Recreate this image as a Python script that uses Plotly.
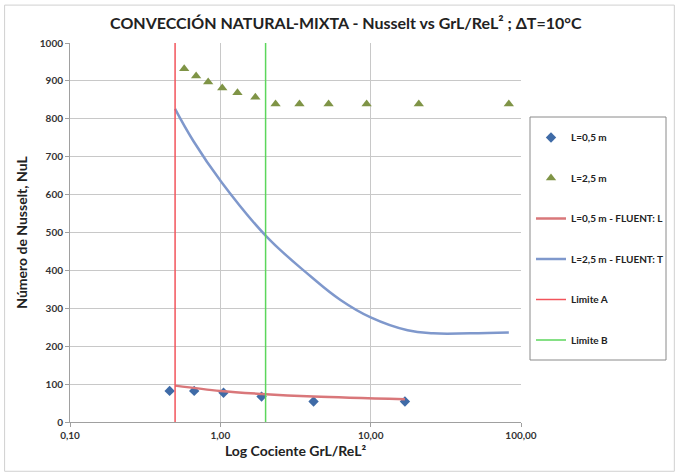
import plotly.graph_objects as go

# Data
x_l05 = [0.46, 0.67, 1.05, 1.88, 4.17, 16.9]
y_l05 = [82, 82, 77, 67, 54, 54]

x_l25 = [0.575, 0.69, 0.83, 1.03, 1.30, 1.71, 2.33, 3.36, 5.25, 9.4, 20.9, 83.0]
y_l25 = [932, 913, 897, 881, 869, 857, 839, 839, 839, 839, 839, 839]

x_fl = [0.5, 1.0, 1.88, 4.17, 16.9]
y_fl = [96, 82, 74, 67, 60]

x_ft = [0.5, 0.66, 1.0, 2.0, 4.0, 6.3, 10.0, 17.6, 26.0, 46.0, 83.0]
y_ft = [826, 742, 637, 492, 384, 322, 276, 242, 234, 234, 236]

lim_a_x = [0.5, 0.5]
lim_b_x = [2.0, 2.0]
lim_y = [0, 1000]

tick_vals = [0.1, 1, 10, 100]
tick_text = ["0,10", "1,00", "10,00", "100,00"]

FONT = "Lato"
fig = go.Figure()
fig.add_trace(go.Scatter(x=x_l05, y=y_l05, mode="markers", name="L=0,5 m",
                         marker=dict(symbol="diamond", size=8, color="#3F6BA7"),
                         legendgroup="a"))
fig.add_trace(go.Scatter(x=x_l25, y=y_l25, mode="markers", name="L=2,5 m",
                         marker=dict(symbol="triangle-up", size=9, color="#7F9446"),
                         legendgroup="b"))
fig.add_trace(go.Scatter(x=x_fl, y=y_fl, mode="lines", name="L=0,5 m - FLUENT: L",
                         line=dict(color="#D9777A", width=2.5, shape="spline"),
                         legendgroup="c"))
fig.add_trace(go.Scatter(x=x_ft, y=y_ft, mode="lines", name="L=2,5 m - FLUENT: T",
                         line=dict(color="#7F98CC", width=2.5, shape="spline", smoothing=1.2),
                         legendgroup="d"))
fig.add_trace(go.Scatter(x=lim_a_x, y=lim_y, mode="lines", name="Limite A",
                         line=dict(color="#F2545B", width=1.5), legendgroup="e"))
fig.add_trace(go.Scatter(x=lim_b_x, y=lim_y, mode="lines", name="Limite B",
                         line=dict(color="#5CD65C", width=1.5), legendgroup="f"))

# plot area in pixels: x 70..521, y 43..422
def px(p):
    return (p - 70) / 451.0

def py(p):
    return (422 - p) / 379.0

fig.update_layout(
    width=678, height=474,
    margin=dict(l=70, r=157, t=43, b=52, autoexpand=False),
    paper_bgcolor="white", plot_bgcolor="white",
    font=dict(family=FONT, color="#333333"),
    title=dict(text="CONVECCIÓN NATURAL-MIXTA - Nusselt vs GrL/ReL² ; ΔT=10°C",
               x=0.51, xanchor="center", y=0.951, yanchor="middle",
               font=dict(size=16, family=FONT, weight="bold", color="#222222")),
    xaxis=dict(type="log", range=[-1, 2], tickvals=tick_vals, ticktext=tick_text,
               showgrid=True, gridcolor="#C8C8C8", gridwidth=1,
               showline=True, linecolor="#A0A0A0", ticks="outside", ticklen=4,
               tickcolor="#A0A0A0", zeroline=False,
               tickfont=dict(size=10, family=FONT, weight="bold", color="#333333"),
               title=dict(text="Log Cociente GrL/ReL²", standoff=6,
                          font=dict(size=14, family=FONT, weight="bold", color="#222222"))),
    yaxis=dict(range=[0, 1000], dtick=100, showgrid=True, gridcolor="#C8C8C8", gridwidth=1,
               showline=True, linecolor="#A0A0A0", ticks="outside", ticklen=4,
               tickcolor="#A0A0A0", zeroline=False,
               tickfont=dict(size=10, family=FONT, weight="bold", color="#333333"),
               title=dict(text="Número de Nusselt, NuL", standoff=8,
                          font=dict(size=14, family=FONT, weight="bold", color="#222222"))),
    legend=dict(x=px(531), y=py(123), xanchor="left", yanchor="top",
                borderwidth=0, bgcolor="rgba(0,0,0,0)",
                font=dict(size=10, family=FONT, weight="bold", color="#222222"),
                tracegroupgap=21.5, itemwidth=30, traceorder="grouped"),
    shapes=[
        dict(type="rect", xref="paper", yref="paper",
             x0=-0.145, x1=1.34, y0=-0.13, y1=1.10,
             line=dict(color="#D0D0D0", width=1), fillcolor="rgba(0,0,0,0)",
             layer="below"),
        dict(type="rect", xref="paper", yref="paper",
             x0=px(530), x1=px(666), y0=py(360), y1=py(117),
             line=dict(color="#8A8A8A", width=1), fillcolor="rgba(0,0,0,0)",
             layer="below"),
    ],
)

fig.write_html("out.html")
